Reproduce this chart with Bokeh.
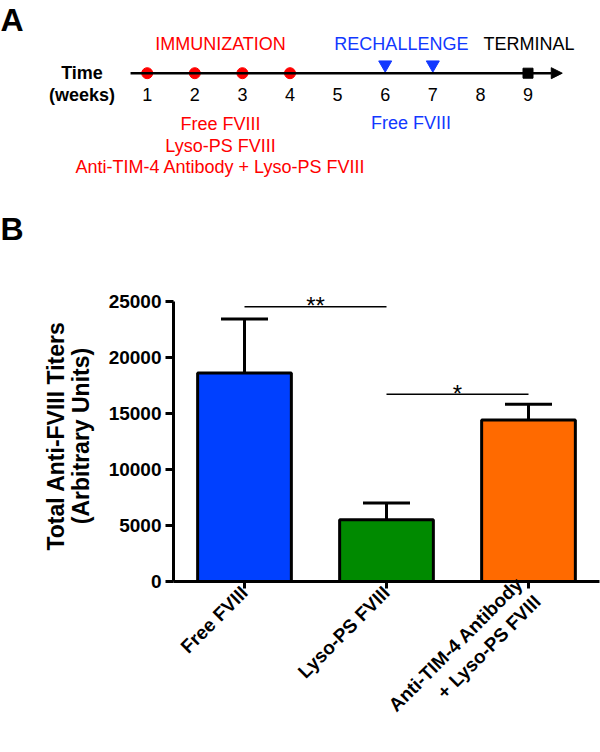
import math
from bokeh.plotting import figure
from bokeh.layouts import column
from bokeh.models import (Range1d, FixedTicker, Whisker, TeeHead, Arrow, NormalHead,
                          ColumnDataSource)
from bokeh.core.properties import value
from bokeh.embed import file_html
from bokeh.resources import INLINE

FONT = "Liberation Sans"

# ---------------- Panel A data (timeline) ----------------
weeks = [1, 2, 3, 4, 5, 6, 7, 8, 9]
week_labels = ["1", "2", "3", "4", "5", "6", "7", "8", "9"]
immunization_weeks = [1, 2, 3, 4]
rechallenge_weeks = [6, 7]
terminal_weeks = [9]
timeline_start = 0.65
timeline_end = 9.72
treatment_groups = ["Free FVIII", "Lyso-PS FVIII", "Anti-TIM-4 Antibody + Lyso-PS FVIII"]
rechallenge_treatment = ["Free FVIII"]

# ---------------- Panel B data (bar chart) ----------------
categories = ["Free FVIII", "Lyso-PS FVIII", "Anti-TIM-4 Antibody\n+ Lyso-PS FVIII"]
means = [18600, 5500, 14400]
errors = [4800, 1500, 1400]
bar_colors = ["#0040FF", "#008A00", "#FF6A00"]
y_ticks = [0, 5000, 10000, 15000, 20000, 25000]
sig_left = [0, 1]
sig_right = [1, 2]
sig_level = [24500, 16700]
sig_text = ["**", "*"]

RED = "#FF0000"
BLUE = "#1238FF"

# ================= Figure A =================
HA = 250
XL = -2.082
pa = figure(width=600, height=HA, x_range=Range1d(XL, 10.523), y_range=Range1d(HA, 0),
            output_backend="svg", toolbar_location=None, min_border=0,
            x_axis_location=None, y_axis_location=None)
pa.frame_align = False
pa.grid.visible = False
pa.outline_line_color = None

TL_Y = 72.7
pa.add_layout(Arrow(end=NormalHead(size=11, fill_color="black", line_color="black", line_width=1),
                    x_start=timeline_start, y_start=TL_Y, x_end=timeline_end, y_end=TL_Y,
                    line_width=2.5, line_color="black"))
pa.scatter(immunization_weeks, [TL_Y] * len(immunization_weeks), marker="circle", size=11,
           fill_color=RED, line_color=RED)
pa.scatter(rechallenge_weeks, [TL_Y - 8.5] * len(rechallenge_weeks), marker="inverted_triangle",
           size=13, fill_color=BLUE, line_color=BLUE)
pa.scatter(terminal_weeks, [TL_Y] * len(terminal_weeks), marker="square", size=10,
           fill_color="black", line_color="black")

pa.text(weeks, [94] * len(weeks), text=week_labels, text_font=value(FONT),
        text_font_size="18px", text_align="center", text_baseline="middle", text_color="black")

pa.text([-0.37, -0.37], [TL_Y, 94], text=["Time", "(weeks)"], text_font=value(FONT),
        text_font_size="18px", text_font_style="bold", text_align="center",
        text_baseline="middle", text_color="black")

pa.text([2.54], [43.3], text=["IMMUNIZATION"], text_font=value(FONT), text_font_size="18px",
        text_align="center", text_baseline="middle", text_color=RED)
pa.text([6.34], [43.3], text=["RECHALLENGE"], text_font=value(FONT), text_font_size="18px",
        text_align="center", text_baseline="middle", text_color=BLUE)
pa.text([9.02], [43.3], text=["TERMINAL"], text_font=value(FONT), text_font_size="18px",
        text_align="center", text_baseline="middle", text_color="black")

pa.text([2.54] * 3, [123.5, 145, 166.7], text=treatment_groups, text_font=value(FONT),
        text_font_size="18px", text_align="center", text_baseline="middle", text_color=RED)
pa.text([6.54], [122.5], text=rechallenge_treatment, text_font=value(FONT),
        text_font_size="18px", text_align="center", text_baseline="middle", text_color=BLUE)

pa.text([XL, XL], [19, 228], text=["A", "B"], text_font=value(FONT), text_font_size="32px",
        text_font_style="bold", text_align="left", text_baseline="middle",
        text_color="black")

# ================= Figure B =================
xs = list(range(len(categories)))
src = ColumnDataSource(dict(x=xs, mean=means, upper=[m + e for m, e in zip(means, errors)],
                            color=bar_colors))

pb = figure(width=600, height=502, x_range=Range1d(-0.5, 2.5), y_range=Range1d(0, 25950),
            output_backend="svg", toolbar_location=None,
            min_border_left=173, min_border_right=1, min_border_top=40, min_border_bottom=168)
pb.frame_align = False
pb.grid.visible = False
pb.outline_line_color = None

pb.vbar(x="x", top="mean", bottom=0, width=0.66, fill_color="color", line_color="black",
        line_width=3, source=src)
pb.add_layout(Whisker(source=src, base="x", lower="mean", upper="upper", dimension="height",
                      line_width=3, line_color="black", lower_head=None,
                      upper_head=TeeHead(size=47, line_width=3, line_color="black")))

pb.segment(x0=sig_left, x1=sig_right, y0=sig_level, y1=sig_level, line_width=1.4,
           line_color="black")
pb.text(x=[(a + b) / 2 for a, b in zip(sig_left, sig_right)], y=sig_level, text=sig_text,
        text_font=value(FONT), text_font_size="24px", text_align="center",
        text_baseline="alphabetic", y_offset=-1, text_color="black")

# axes
pb.yaxis.ticker = FixedTicker(ticks=y_ticks)
pb.yaxis.bounds = (0, 25000)
pb.yaxis.axis_label = "Total Anti-FVIII Titers\n(Arbitrary Units)"
pb.yaxis.axis_label_text_font = FONT
pb.yaxis.axis_label_text_font_size = "23px"
pb.yaxis.axis_label_text_font_style = "bold"
pb.yaxis.axis_label_text_color = "black"
pb.yaxis.axis_label_text_line_height = 0.95
pb.yaxis.axis_label_standoff = 12
pb.yaxis.major_label_standoff = 4

pb.xaxis.ticker = FixedTicker(ticks=xs)
pb.xaxis.major_label_overrides = {i: c for i, c in zip(xs, categories)}
pb.xaxis.major_label_orientation = math.pi / 4
pb.xaxis.major_label_standoff = 1

for ax in (pb.xaxis, pb.yaxis):
    ax.axis_line_width = 3
    ax.axis_line_color = "black"
    ax.major_tick_line_width = 3
    ax.major_tick_line_color = "black"
    ax.major_tick_in = 0
    ax.minor_tick_line_color = None
    ax.major_label_text_font = FONT
    ax.major_label_text_font_style = "bold"
    ax.major_label_text_color = "black"
pb.yaxis.major_tick_out = 8
pb.xaxis.major_tick_out = 7
pb.yaxis.major_label_text_font_size = "19px"
pb.xaxis.major_label_text_font_size = "19px"

layout = column(pa, pb, spacing=0)
open("out.html", "w").write(file_html(layout, INLINE))
